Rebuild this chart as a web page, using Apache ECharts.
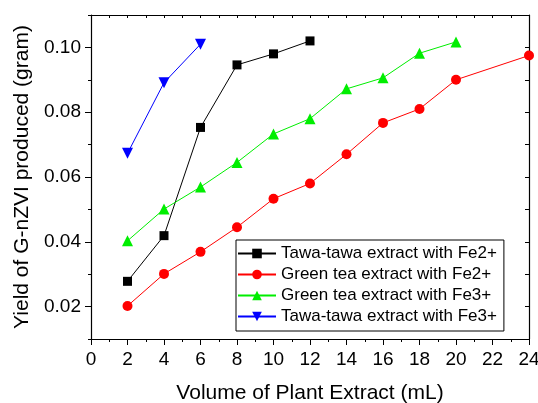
<!DOCTYPE html>
<html>
<head>
<meta charset="utf-8">
<script src="https://cdn.jsdelivr.net/npm/echarts@6/dist/echarts.min.js"></script>
<style>
  html, body { margin: 0; padding: 0; background: #fff; }
  #chart { width: 538px; height: 403px; }
</style>
</head>
<body>
<div id="chart"></div>
<script>
// data
var volume = [2, 4, 6, 8, 10, 12, 14, 16, 18, 20, 24];
var tawaFe2 = [0.0278, 0.0419, 0.0753, 0.0946, 0.0980, 0.1020];
var greenFe2 = [0.0202, 0.0301, 0.0369, 0.0445, 0.0533, 0.0580, 0.0670, 0.0767, 0.0810, 0.0900, 0.0975];
var greenFe3 = [0.0403, 0.0501, 0.0569, 0.0645, 0.0733, 0.0780, 0.0872, 0.0906, 0.0982, 0.1017];
var tawaFe3 = [0.0673, 0.0891, 0.1010];
var yMajor = [0.02, 0.04, 0.06, 0.08, 0.10];

function pairs(vals) {
  return vals.map(function (v, i) { return [volume[i], v]; });
}

var chart = echarts.init(document.getElementById('chart'));
var font = 'Liberation Sans, Arial, sans-serif';
var black = '#000';

function line(name, vals, color, symbol, size, rotate) {
  return {
    name: name,
    type: 'line',
    data: pairs(vals),
    symbol: symbol,
    symbolSize: size,
    symbolRotate: rotate || 0,
    lineStyle: { color: color, width: 1 },
    itemStyle: { color: color },
    z: 3
  };
}

var option = {
  backgroundColor: '#fff',
  animation: false,
  grid: { left: 91, right: 9, top: 15, bottom: 64, outerBoundsMode: 'none' },
  legend: {
    orient: 'vertical',
    left: 236,
    top: 240,
    backgroundColor: '#fff',
    borderColor: black,
    borderWidth: 1,
    borderRadius: 0,
    padding: [5, 7, 6, 1],
    itemWidth: 38,
    itemHeight: 12,
    itemGap: 4,
    textStyle: { fontFamily: font, fontSize: 17, color: black },
    data: ['Tawa-tawa extract with Fe2+', 'Green tea extract with Fe2+',
           'Green tea extract with Fe3+', 'Tawa-tawa extract with Fe3+']
  },
  xAxis: [{
    type: 'value',
    min: 0, max: 24, interval: 2,
    name: 'Volume of Plant Extract (mL)',
    nameLocation: 'middle',
    nameGap: 44,
    nameTextStyle: { fontFamily: font, fontSize: 21, color: black },
    axisLine: { lineStyle: { color: black, width: 1.2 } },
    axisTick: { length: 6, lineStyle: { color: black } },
    minorTick: { show: true, splitNumber: 2, length: 3, lineStyle: { color: black } },
    axisLabel: { fontFamily: font, fontSize: 19, color: black, margin: 11 },
    splitLine: { show: false }
  }, {
    type: 'value',
    position: 'top',
    min: 0, max: 24, interval: 1,
    axisLine: { show: true, lineStyle: { color: black, width: 1.2 } },
    axisTick: { inside: true, length: 3, lineStyle: { color: black } },
    axisLabel: { show: false },
    splitLine: { show: false }
  }],
  yAxis: [{
    type: 'value',
    min: 0.01, max: 0.11, interval: 0.01,
    name: 'Yield of G-nZVI produced (gram)',
    nameLocation: 'middle',
    nameGap: 58,
    nameTextStyle: { fontFamily: font, fontSize: 21, color: black },
    axisLine: { show: true, lineStyle: { color: black, width: 1.2 } },
    axisTick: { length: 3, lineStyle: { color: black } },
    axisLabel: {
      fontFamily: font, fontSize: 19, color: black, margin: 10,
      customValues: yMajor,
      formatter: function (v) { return v.toFixed(2); }
    },
    splitLine: { show: false }
  }, {
    type: 'value',
    position: 'left',
    min: 0.01, max: 0.11, interval: 0.01,
    axisLine: { show: false },
    axisTick: { show: true, length: 6, customValues: yMajor, lineStyle: { color: black } },
    axisLabel: { show: false },
    splitLine: { show: false }
  }, {
    type: 'value',
    position: 'right',
    min: 0.01, max: 0.11, interval: 0.01,
    axisLine: { show: true, lineStyle: { color: black, width: 1.2 } },
    axisTick: { show: true, inside: true, length: 4, lineStyle: { color: black } },
    axisLabel: { show: false },
    splitLine: { show: false }
  }],
  series: [
    line('Tawa-tawa extract with Fe2+', tawaFe2, '#000000', 'rect', 9),
    line('Green tea extract with Fe2+', greenFe2, '#ff0000', 'circle', 10),
    line('Green tea extract with Fe3+', greenFe3, '#00ee00', 'triangle', 11),
    line('Tawa-tawa extract with Fe3+', tawaFe3, '#0000ff', 'triangle', 11, 180)
  ]
};

chart.setOption(option);
</script>
</body>
</html>
